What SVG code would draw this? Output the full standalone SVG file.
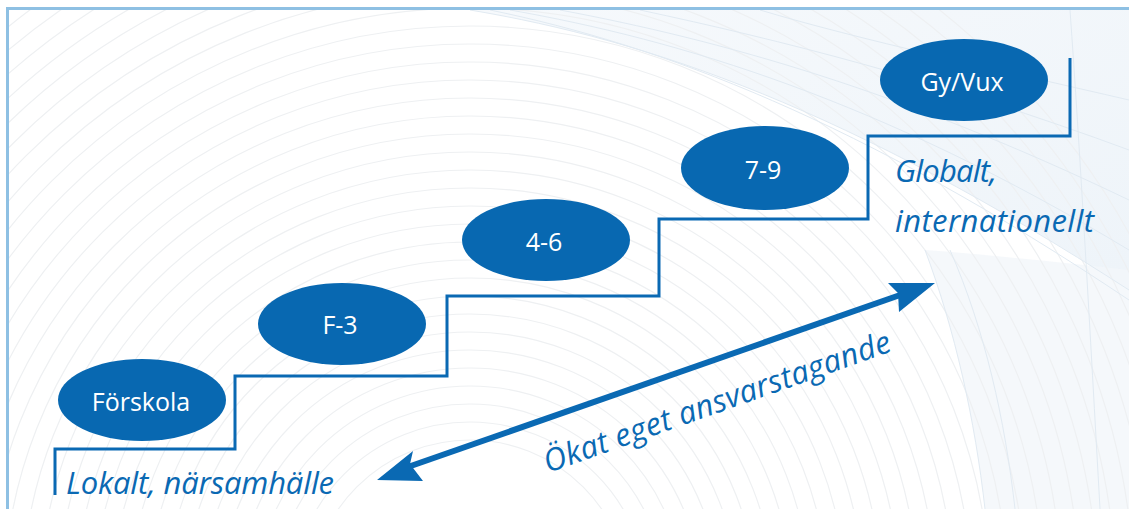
<svg xmlns="http://www.w3.org/2000/svg" width="1129" height="509" viewBox="0 0 1129 509">
  <defs>
    <style>
      .bg-arc { fill: none; stroke: #eef0f2; stroke-width: 1.2; }
      .mesh { fill: none; stroke: #e1eaf2; stroke-width: 1; }
      .stair { fill: none; stroke: #0a69b3; stroke-width: 3; stroke-linejoin: miter; }
      .node-shape { fill: #0868b1; }
      .node-label { fill: #ffffff; font-family: "Open Sans", "Noto Sans", sans-serif; font-size: 25px; text-anchor: middle; }
      .side-label { fill: #0a69b3; font-family: "Open Sans", "Noto Sans", sans-serif; font-size: 31px; font-style: italic; }
      .frame { fill: none; stroke: #8ec0e3; stroke-width: 3; }
    </style>
    <clipPath id="panel">
      <rect x="8" y="10" width="1121" height="499"/>
    </clipPath>
    <linearGradient id="topright" x1="0" y1="0" x2="1" y2="1">
      <stop offset="0" stop-color="#f3f7fb"/>
      <stop offset="1" stop-color="#e8f0f7"/>
    </linearGradient>
  </defs>

  <rect width="1129" height="509" fill="#ffffff"/>

  <!-- background guilloche approximation -->
  <g id="background" clip-path="url(#panel)">
    <path d="M470,10 C650,40 850,110 1129,290 L1129,10 Z" fill="url(#topright)" opacity="0.75"/>
    <path d="M925,250 C955,330 975,420 985,509 L1129,509 L1129,270 C1060,262 990,255 925,250 Z" fill="#f2f6fa" opacity="0.8"/>
    <g>
      <circle class="bg-arc" cx="470" cy="600" r="160"/>
      <circle class="bg-arc" cx="470" cy="600" r="178"/>
      <circle class="bg-arc" cx="470" cy="600" r="196"/>
      <circle class="bg-arc" cx="470" cy="600" r="214"/>
      <circle class="bg-arc" cx="470" cy="600" r="232"/>
      <circle class="bg-arc" cx="470" cy="600" r="250"/>
      <circle class="bg-arc" cx="470" cy="600" r="268"/>
      <circle class="bg-arc" cx="470" cy="600" r="286"/>
      <circle class="bg-arc" cx="470" cy="600" r="304"/>
      <circle class="bg-arc" cx="470" cy="600" r="322"/>
      <circle class="bg-arc" cx="470" cy="600" r="340"/>
      <circle class="bg-arc" cx="470" cy="600" r="358"/>
      <circle class="bg-arc" cx="470" cy="600" r="376"/>
      <circle class="bg-arc" cx="470" cy="600" r="394"/>
      <circle class="bg-arc" cx="470" cy="600" r="412"/>
      <circle class="bg-arc" cx="470" cy="600" r="430"/>
      <circle class="bg-arc" cx="470" cy="600" r="448"/>
      <circle class="bg-arc" cx="470" cy="600" r="466"/>
      <circle class="bg-arc" cx="470" cy="600" r="484"/>
      <circle class="bg-arc" cx="470" cy="600" r="502"/>
      <circle class="bg-arc" cx="470" cy="600" r="520"/>
      <circle class="bg-arc" cx="470" cy="600" r="538"/>
      <circle class="bg-arc" cx="470" cy="600" r="556"/>
      <circle class="bg-arc" cx="470" cy="600" r="574"/>
      <circle class="bg-arc" cx="470" cy="600" r="592"/>
      <circle class="bg-arc" cx="470" cy="600" r="610"/>
      <circle class="bg-arc" cx="470" cy="600" r="628"/>
      <circle class="bg-arc" cx="470" cy="600" r="646"/>
      <circle class="bg-arc" cx="470" cy="600" r="664"/>
      <circle class="bg-arc" cx="470" cy="600" r="682"/>
      <circle class="bg-arc" cx="470" cy="600" r="700"/>
      <circle class="bg-arc" cx="470" cy="600" r="718"/>
      <circle class="bg-arc" cx="470" cy="600" r="736"/>
      <circle class="bg-arc" cx="470" cy="600" r="754"/>
    </g>
    <g>
      <path class="mesh" d="M470,10 C650,40 850,110 1129,290"/>
      <path class="mesh" d="M490,10 C660,45 860,120 1129,300"/>
      <path class="mesh" d="M510,10 C680,40 880,100 1129,250"/>
      <path class="mesh" d="M560,10 C720,40 900,90 1129,200"/>
      <path class="mesh" d="M640,10 C780,40 940,80 1129,150"/>
      <path class="mesh" d="M760,10 C860,40 1000,70 1129,100"/>
      <path class="mesh" d="M925,250 C955,330 975,420 985,509"/>
      <path class="mesh" d="M950,250 C985,330 1005,420 1015,509"/>
      <path class="mesh" d="M1070,10 C1080,150 1090,330 1100,509"/>
    </g>
  </g>

  <!-- frame -->
  <path class="frame" d="M7.5,509 V8.5 H1129"/>

  <!-- connectors -->
  <g id="connectors">
    <path id="staircase" class="stair" d="M55,495 V449 H235 V376 H447 V296 H659 V219 H868 V136 H1070 V58"/>
    <g id="double-arrow" fill="#0a69b3">
      <line x1="405" y1="468" x2="903" y2="294" stroke="#0a69b3" stroke-width="6"/>
      <path d="M377,480 L413,451 L410,464 L423,481 Z"/>
      <path d="M935,283 L888,283 L898,293 L899,312 Z"/>
    </g>
  </g>

  <!-- nodes -->
  <g id="node-forskola">
    <ellipse class="node-shape" cx="142" cy="400" rx="84" ry="41"/>
    <text class="node-label" x="141" y="411">Förskola</text>
  </g>
  <g id="node-f3">
    <ellipse class="node-shape" cx="342" cy="324" rx="84" ry="41"/>
    <text class="node-label" x="340" y="334">F-3</text>
  </g>
  <g id="node-46">
    <ellipse class="node-shape" cx="546" cy="240" rx="84" ry="41"/>
    <text class="node-label" x="544" y="251">4-6</text>
  </g>
  <g id="node-79">
    <ellipse class="node-shape" cx="765" cy="168" rx="84" ry="42"/>
    <text class="node-label" x="763" y="179">7-9</text>
  </g>
  <g id="node-gyvux">
    <ellipse class="node-shape" cx="964" cy="80" rx="84" ry="41"/>
    <text class="node-label" x="962" y="91">Gy/Vux</text>
  </g>

  <!-- labels -->
  <g id="label-lokalt">
    <text class="side-label" x="66" y="494" textLength="268">Lokalt, närsamhälle</text>
  </g>
  <g id="label-globalt">
    <text class="side-label" x="895" y="182" textLength="102">Globalt,</text>
    <text class="side-label" x="895" y="232" textLength="199">internationellt</text>
  </g>
  <g id="label-arrow">
    <text class="side-label" x="0" y="0" textLength="366" transform="translate(548,473) rotate(-19.5)">Ökat eget ansvarstagande</text>
  </g>
</svg>
